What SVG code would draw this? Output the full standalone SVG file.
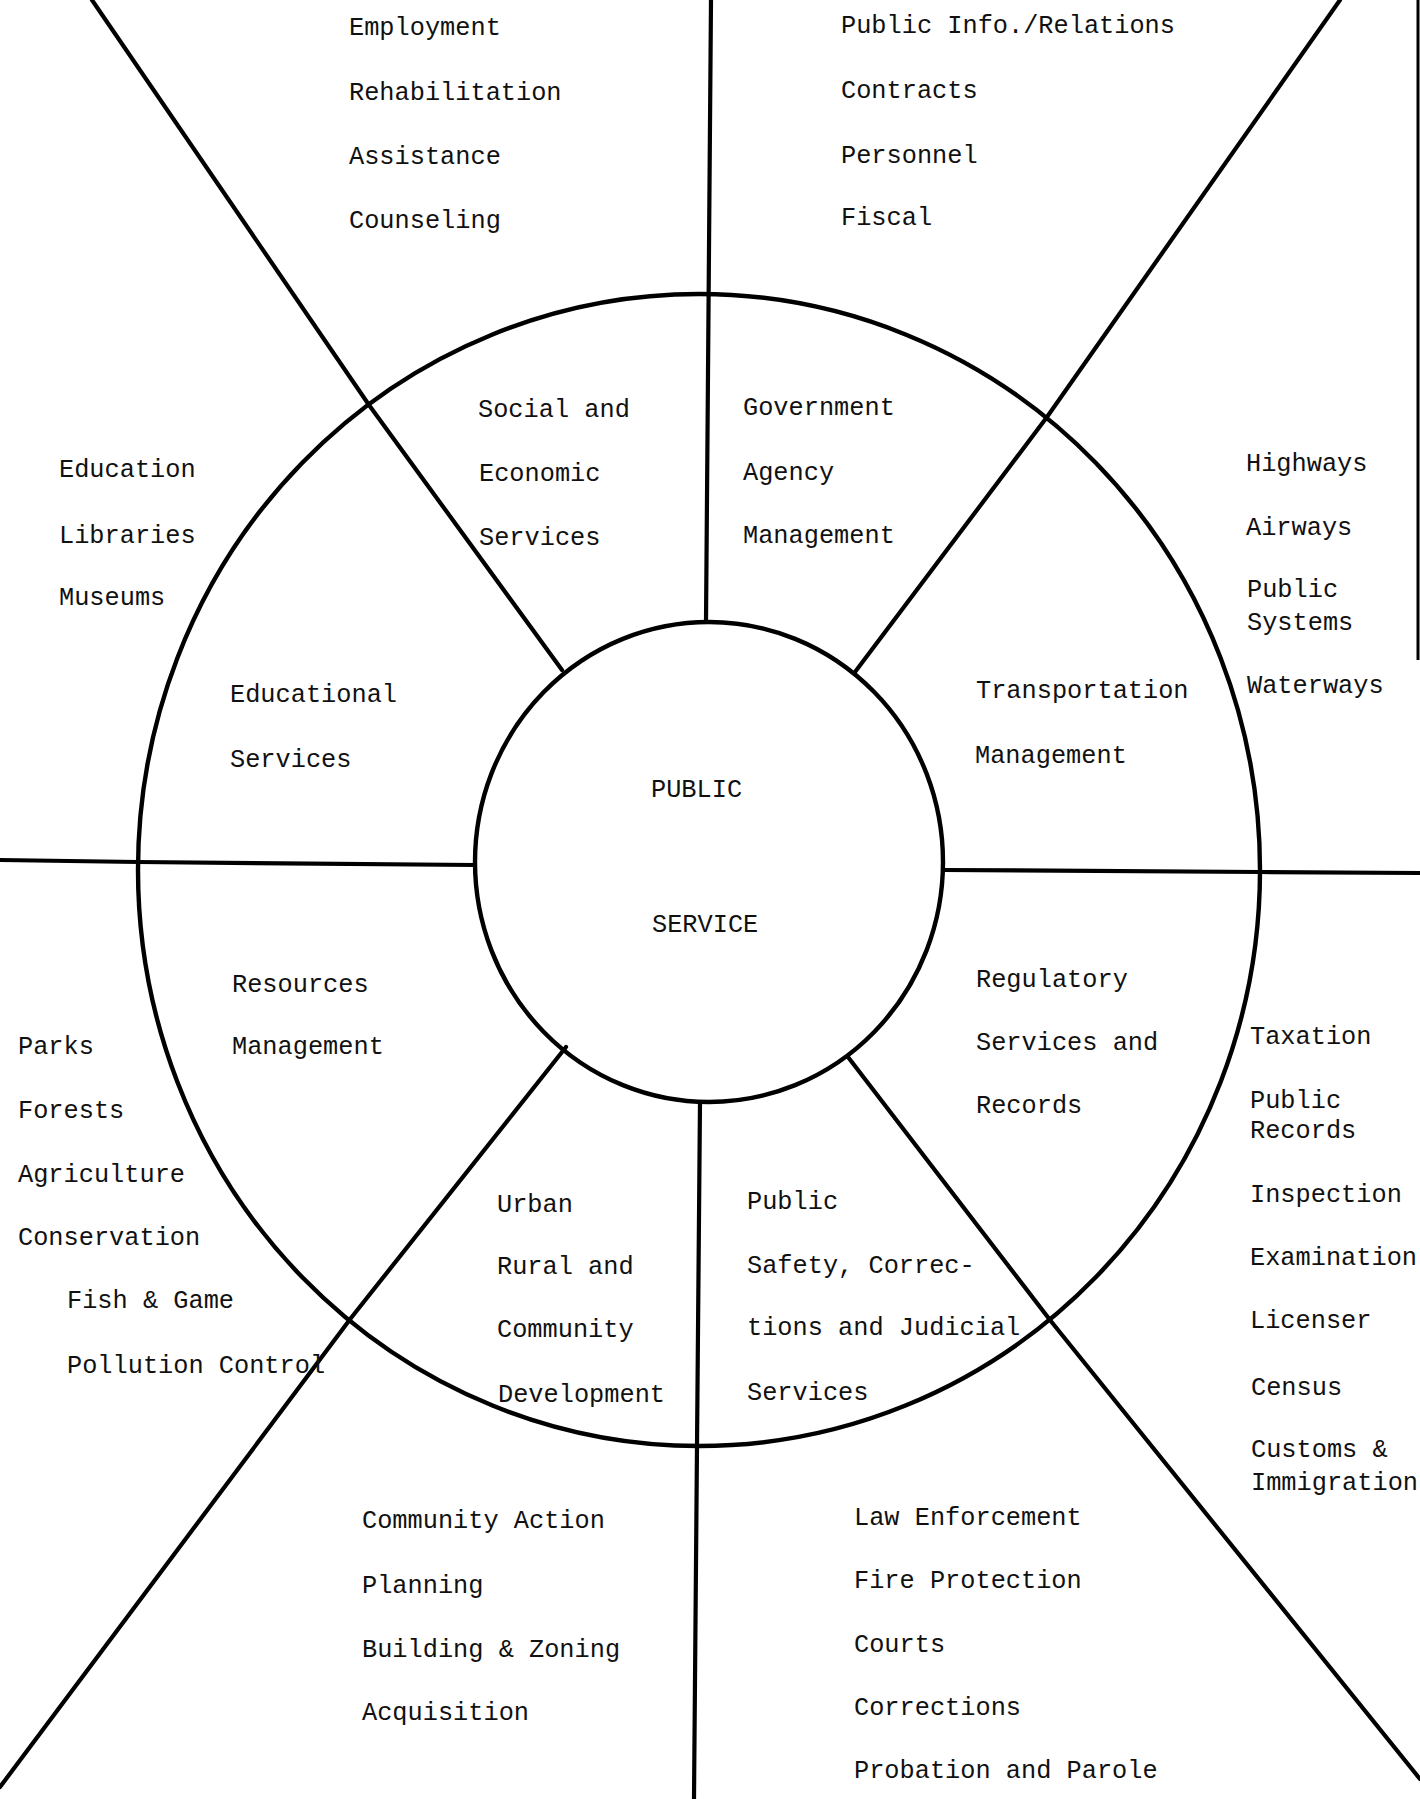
<svg xmlns="http://www.w3.org/2000/svg" width="1420" height="1799" viewBox="0 0 1420 1799">
<style>
.t{font-family:"Liberation Mono","DejaVu Sans Mono",monospace;font-size:25.3px;fill:#111}
.ln{fill:none;stroke:#000;stroke-width:4.2;stroke-linejoin:round;stroke-linecap:round}
.c{fill:none;stroke:#000;stroke-width:4.4}
</style>
<rect width="1420" height="1799" fill="#fff"/>
<g id="connectors">
<ellipse id="outer-ring" class="c" cx="699" cy="870" rx="561" ry="576"/>
<polyline class="ln" points="711,0 706,622"/>
<polyline class="ln" points="1340,0 1047,417 855,672"/>
<polyline class="ln" points="1420,873 1260,872 943,870"/>
<polyline class="ln" points="1420,1779 1050,1320 848,1057"/>
<polyline class="ln" points="694,1799 697,1446 700,1102"/>
<polyline class="ln" points="0,1787 351,1318 566,1047"/>
<polyline class="ln" points="0,860 138,862 475,865"/>
<polyline class="ln" points="92,0 369,405 562,670"/>
<line x1="1418" y1="0" x2="1418" y2="660" stroke="#000" stroke-width="3"/>
</g>
<g id="center">
<ellipse class="c" cx="709" cy="862" rx="234" ry="240" fill="#fff"/>
<text class="t" x="651" y="797">PUBLIC</text>
<text class="t" x="652" y="932">SERVICE</text>
</g>
<g id="social-economic">
<text class="t" x="478" y="417">Social and</text>
<text class="t" x="479" y="481">Economic</text>
<text class="t" x="479" y="545">Services</text>
</g>
<g id="social-economic-items">
<text class="t" x="349" y="35">Employment</text>
<text class="t" x="349" y="100">Rehabilitation</text>
<text class="t" x="349" y="164">Assistance</text>
<text class="t" x="349" y="228">Counseling</text>
</g>
<g id="government">
<text class="t" x="743" y="415">Government</text>
<text class="t" x="743" y="480">Agency</text>
<text class="t" x="743" y="543">Management</text>
</g>
<g id="government-items">
<text class="t" x="841" y="33">Public Info./Relations</text>
<text class="t" x="841" y="98">Contracts</text>
<text class="t" x="841" y="163">Personnel</text>
<text class="t" x="841" y="225">Fiscal</text>
</g>
<g id="transportation">
<text class="t" x="976" y="698">Transportation</text>
<text class="t" x="975" y="763">Management</text>
</g>
<g id="transportation-items">
<text class="t" x="1246" y="471">Highways</text>
<text class="t" x="1246" y="535">Airways</text>
<text class="t" x="1247" y="597">Public</text>
<text class="t" x="1247" y="630">Systems</text>
<text class="t" x="1247" y="693">Waterways</text>
</g>
<g id="regulatory">
<text class="t" x="976" y="987">Regulatory</text>
<text class="t" x="976" y="1050">Services and</text>
<text class="t" x="976" y="1113">Records</text>
</g>
<g id="regulatory-items">
<text class="t" x="1250" y="1044">Taxation</text>
<text class="t" x="1250" y="1108">Public</text>
<text class="t" x="1250" y="1138">Records</text>
<text class="t" x="1250" y="1202">Inspection</text>
<text class="t" x="1250" y="1265">Examination</text>
<text class="t" x="1250" y="1328">Licenser</text>
<text class="t" x="1251" y="1395">Census</text>
<text class="t" x="1251" y="1457">Customs &amp;</text>
<text class="t" x="1251" y="1490">Immigration</text>
</g>
<g id="public-safety">
<text class="t" x="747" y="1209">Public</text>
<text class="t" x="747" y="1273">Safety, Correc-</text>
<text class="t" x="747" y="1335">tions and Judicial</text>
<text class="t" x="747" y="1400">Services</text>
</g>
<g id="public-safety-items">
<text class="t" x="854" y="1525">Law Enforcement</text>
<text class="t" x="854" y="1588">Fire Protection</text>
<text class="t" x="854" y="1652">Courts</text>
<text class="t" x="854" y="1715">Corrections</text>
<text class="t" x="854" y="1778">Probation and Parole</text>
</g>
<g id="urban-rural">
<text class="t" x="497" y="1212">Urban</text>
<text class="t" x="497" y="1274">Rural and</text>
<text class="t" x="497" y="1337">Community</text>
<text class="t" x="498" y="1402">Development</text>
</g>
<g id="urban-rural-items">
<text class="t" x="362" y="1528">Community Action</text>
<text class="t" x="362" y="1593">Planning</text>
<text class="t" x="362" y="1657">Building &amp; Zoning</text>
<text class="t" x="362" y="1720">Acquisition</text>
</g>
<g id="resources">
<text class="t" x="232" y="992">Resources</text>
<text class="t" x="232" y="1054">Management</text>
</g>
<g id="resources-items">
<text class="t" x="18" y="1054">Parks</text>
<text class="t" x="18" y="1118">Forests</text>
<text class="t" x="18" y="1182">Agriculture</text>
<text class="t" x="18" y="1245">Conservation</text>
<text class="t" x="67" y="1308">Fish &amp; Game</text>
<text class="t" x="67" y="1373">Pollution Control</text>
</g>
<g id="educational">
<text class="t" x="230" y="702">Educational</text>
<text class="t" x="230" y="767">Services</text>
</g>
<g id="educational-items">
<text class="t" x="59" y="477">Education</text>
<text class="t" x="59" y="543">Libraries</text>
<text class="t" x="59" y="605">Museums</text>
</g>
</svg>
